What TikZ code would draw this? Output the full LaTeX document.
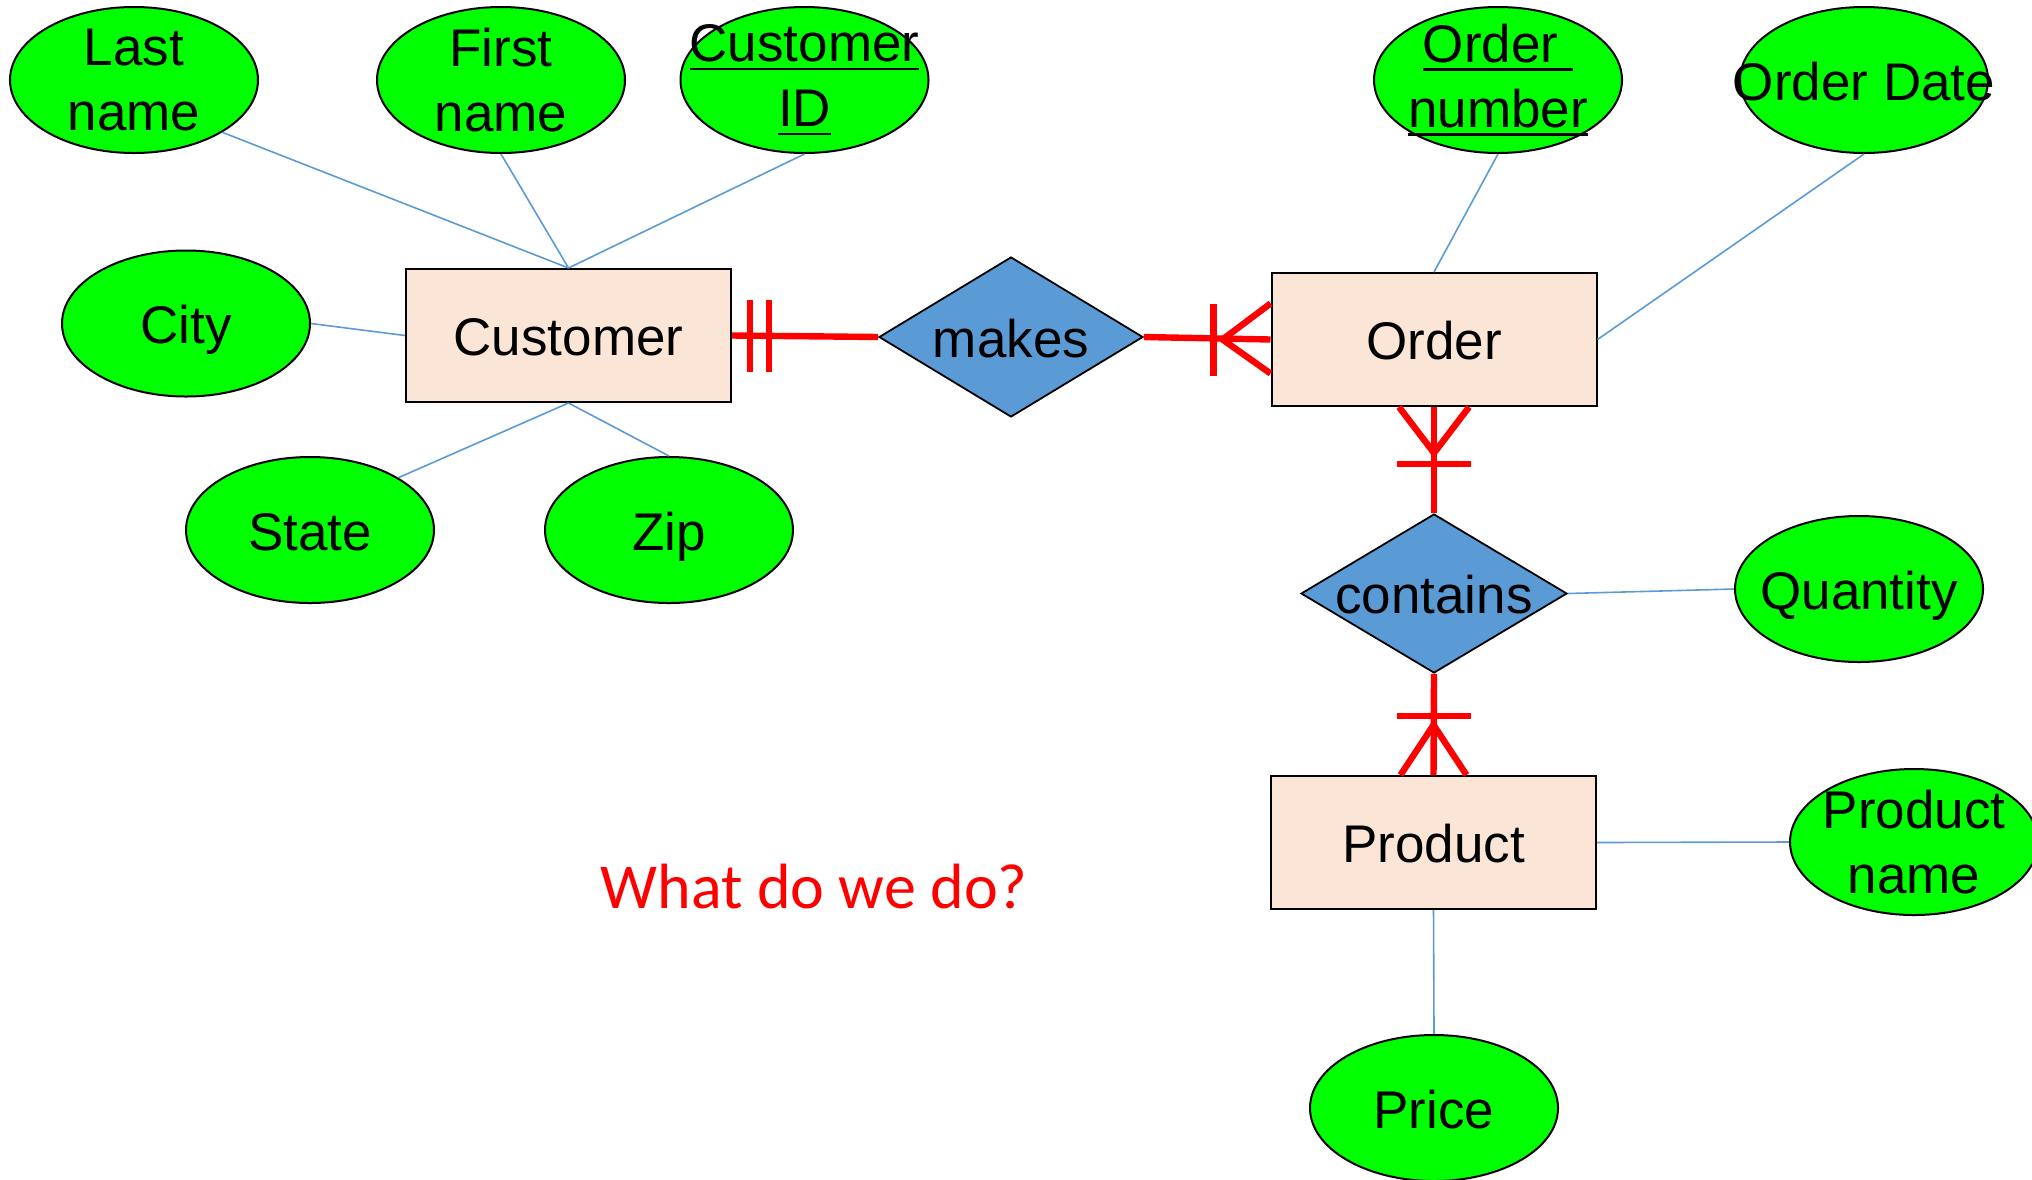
\documentclass[tikz,border=0pt]{standalone}
\usepackage{fontspec}
\setmainfont{Liberation Sans}
\newfontfamily\notefont{Carlito}
\usetikzlibrary{shapes.geometric,calc}

\definecolor{attrgreen}{HTML}{00FF00}
\definecolor{entfill}{HTML}{FBE5D6}
\definecolor{relfill}{HTML}{5B9BD5}
\definecolor{linkblue}{HTML}{5B9BD5}

% underlined key attribute text (rule keeps the width of the text, trailing spaces included)
\newcommand\keyline[1]{\setbox0=\hbox{#1}\rlap{\rule[-4.2pt]{\wd0}{1.35pt}}\box0}

\begin{document}
\begin{tikzpicture}[x=0.5pt, y=-0.5pt,
  every node/.style={font=\fontsize{26.5pt}{32.5pt}\selectfont},
  attr/.style={ellipse, draw=black, line width=1pt, fill=attrgreen,
    minimum width=124pt, minimum height=73pt, inner sep=0pt},
  lbl/.style={align=center, inner sep=0pt},
  one/.style={inner sep=0pt, text height=20pt, text depth=0pt},
  entity/.style={rectangle, draw=black, line width=1pt, fill=entfill,
    minimum width=162.5pt, minimum height=66.5pt, inner sep=0pt,
    text height=20pt, text depth=0pt},
  relation/.style={diamond, draw=black, line width=0.9pt, fill=relfill,
    minimum width=132pt, minimum height=80pt, inner sep=0pt},
  attrlink/.style={draw=linkblue, line width=0.8pt},
  card/.style={draw=red, line width=3.2pt, line join=round},
]
\useasboundingbox (0,0) rectangle (2032,1179);

% entities
\node[entity] (cust)  at (568.5,335.5) {Customer};
\node[entity] (order) at (1434,339.5)  {Order};
\node[entity] (prod)  at (1433.5,842.5) {Product};

% relationships
\node[relation, label={[one]center:makes}] (makes) at (1011,337) {};
\node[relation, minimum width=133pt, minimum height=79.5pt,
      label={[one]center:contains}] (contains) at (1434,593.5) {};

% attributes
\node[attr, label={[lbl]center:{Last\\name}}]  (lname) at (134,80) {};
\node[attr, label={[lbl]center:{First\\name}}] (fname) at (501,80) {};
\node[attr, label={[lbl]center:{\keyline{Customer}\\\keyline{ID}}}] (cid) at (804.5,80) {};
\node[attr, label={[one]center:City}]  (city)  at (186,323.5) {};
\node[attr, label={[one]center:State}] (state) at (310,530) {};
\node[attr, label={[one]center:Zip}]   (zip)   at (669,530) {};
\node[attr, label={[lbl]center:{\keyline{Order }\\\keyline{number}}}] (onum) at (1498,80) {};
\node[attr, label={[one]center:Order Date}] (odate) at (1864,80) {};
\node[attr, label={[one]center:Quantity}]   (qty)   at (1859,589) {};
\node[attr, label={[lbl]center:{Product\\name}}] (pname) at (1914,842) {};
\node[attr, label={[one]center:Price}]      (price) at (1434,1108) {};

% attribute links
\draw[attrlink] (lname.south east) -- (cust.north);
\draw[attrlink] (fname.south) -- (cust.north);
\draw[attrlink] (cid.south) -- (cust.north);
\draw[attrlink] (city.east) -- (cust.west);
\draw[attrlink] (state.north east) -- (cust.south);
\draw[attrlink] (zip.north) -- (cust.south);
\draw[attrlink] (onum.south) -- (order.north);
\draw[attrlink] (odate.south) -- (order.east);
\draw[attrlink] (contains.east) -- (qty.west);
\draw[attrlink] (prod.east) -- (pname.west);
\draw[attrlink] (prod.south) -- (price.north);

% Customer -- makes : one and only one
\draw[card] (cust.east) -- (makes.west);
\draw[card] ($(cust.east)+(18,-36)$) -- ++(0,72);
\draw[card] ($(cust.east)+(37,-36)$) -- ++(0,72);

% makes -- Order : one or many
\draw[card] (makes.east) -- (order.west);
\draw[card] ($(order.west)+(-57,-36)$) -- ++(0,72);
\draw[card] ($(order.west)+(0,-36)$) -- ($(order.west)+(-48,0)$) -- ($(order.west)+(0,34)$);

% Order -- contains : one or many
\draw[card] (order.south) -- (contains.north);
\draw[card] ($(order.south)+(-37,57)$) -- ++(74,0);
\draw[card] ($(order.south)+(-35,0)$) -- ($(order.south)+(0,46)$) -- ($(order.south)+(35,0)$);

% contains -- Product : one or many
\draw[card] (contains.south) -- (prod.north);
\draw[card] ($(prod.north)+(-37,-59)$) -- ++(74,0);
\draw[card] ($(prod.north)+(-33,0)$) -- ($(prod.north)+(0,-50)$) -- ($(prod.north)+(33,0)$);

% note
\node[font=\fontsize{32pt}{38pt}\notefont, text=red, anchor=base, inner sep=0pt]
  (note) at (814,908) {What do we do?};
\end{tikzpicture}
\end{document}
